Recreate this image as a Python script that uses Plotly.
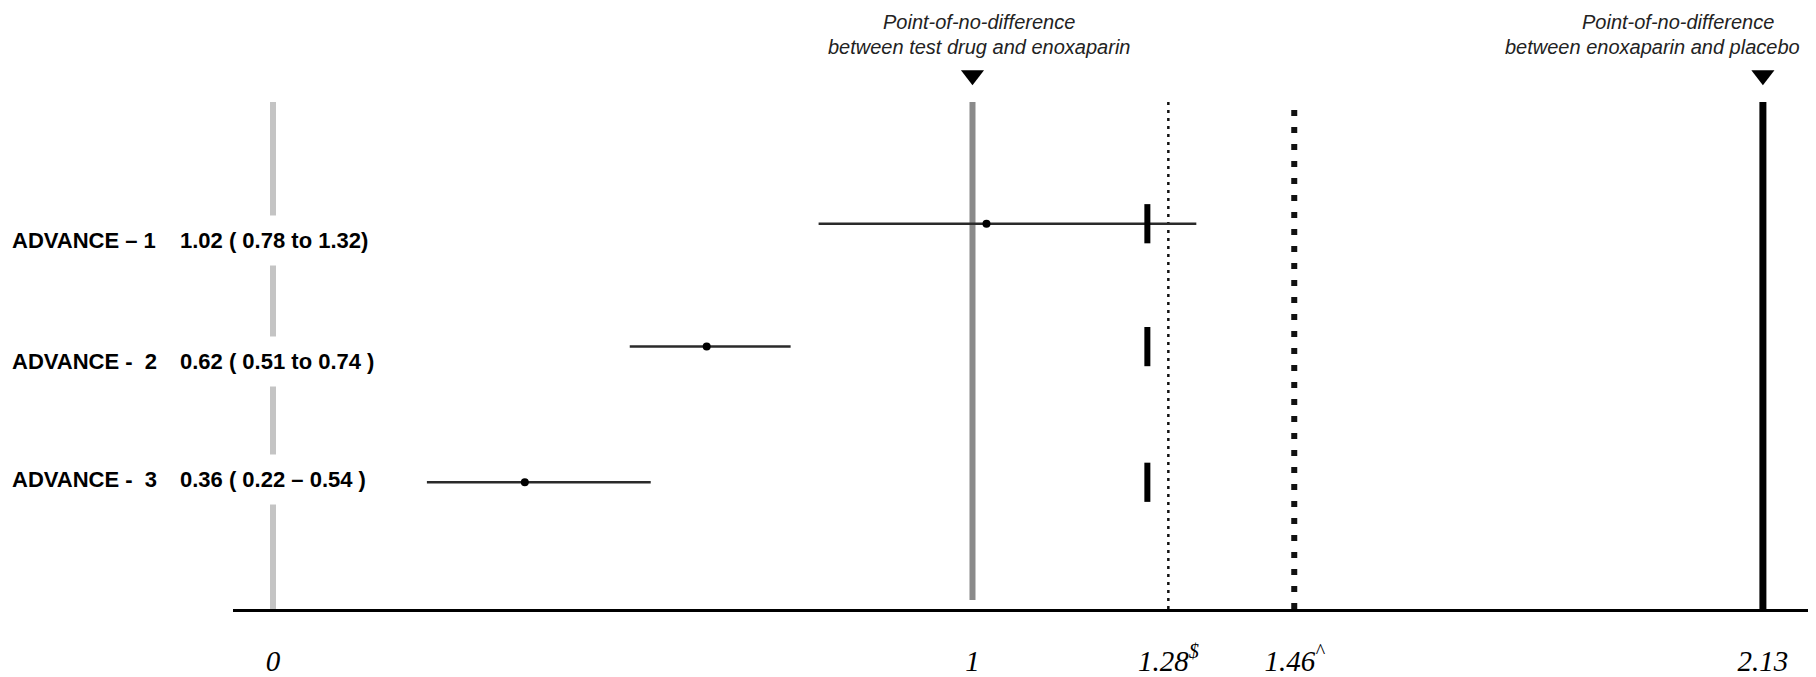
import plotly.graph_objects as go

# ---- data ----
studies = ["ADVANCE – 1", "ADVANCE -  2", "ADVANCE -  3"]
estimate = [1.02, 0.62, 0.36]
ci_low = [0.78, 0.51, 0.22]
ci_high = [1.32, 0.74, 0.54]
ci_text = ["1.02 ( 0.78 to 1.32)", "0.62 ( 0.51 to 0.74 )", "0.36 ( 0.22 – 0.54 )"]
margin_mark = [1.25, 1.25, 1.25]

tick_vals = [0, 1, 1.28, 1.46, 2.13]
tick_text = ["0", "1", "1.28<sup>$</sup>", "1.46<sup>^</sup>", "2.13"]

pond_vals = [1, 2.13]  # points of no difference
pond_line1 = ["Point-of-no-difference", "Point-of-no-difference"]
pond_line2 = ["between test drug and enoxaparin", "between enoxaparin and placebo"]

# ---- layout helpers (positions / styles) ----
# the page body has an 8px default margin, so the figure is drawn 8px smaller
W, H = 1808, 669
AX_Y = 601            # axis line height inside the figure (px from top)
UNIT = 128.0          # px per y unit
row_y = [3.01, 2.05, 0.99]
label_y = [2.88, 1.93, 1.01]
line_top = 3.96
tri_y = 4.17
ref_styles = [
    dict(color="#c4c4c4", width=6, dash="solid", y0=0.0),
    dict(color="#8a8a8a", width=6, dash="solid", y0=0.07),
    dict(color="#111111", width=2.5, dash="3px,5px", y0=0.0),
    dict(color="#111111", width=6, dash="6px,11px", y0=0.0),
    dict(color="#000000", width=7, dash="solid", y0=0.0),
]

fig = go.Figure()

# reference vertical lines
for v, st in zip(tick_vals, ref_styles):
    fig.add_shape(type="line", xref="x", yref="y", x0=v, x1=v, y0=st["y0"], y1=line_top,
                  line=dict(color=st["color"], width=st["width"], dash=st["dash"]),
                  layer="below")

# CI lines
xs, ys = [], []
for lo, hi, y in zip(ci_low, ci_high, row_y):
    xs += [lo, hi, None]
    ys += [y, y, None]
fig.add_trace(go.Scatter(x=xs, y=ys, mode="lines", line=dict(color="#2a2a2a", width=2.5),
                         hoverinfo="skip"))

# margin marks
fig.add_trace(go.Scatter(x=margin_mark, y=row_y, mode="markers",
                         marker=dict(symbol="line-ns", size=28,
                                     line=dict(color="black", width=6))))

# point estimates
fig.add_trace(go.Scatter(x=estimate, y=row_y, mode="markers",
                         marker=dict(symbol="circle", size=8, color="black")))

# triangles
fig.add_trace(go.Scatter(x=pond_vals, y=[tri_y] * len(pond_vals), mode="markers",
                         marker=dict(symbol="triangle-down", size=20, color="black")))

annotations = []
sans = "Arial, Liberation Sans, sans-serif"
for name, txt, ly in zip(studies, ci_text, label_y):
    annotations.append(dict(x=-0.1415, xref="paper", y=ly, yref="y", text="<b>" + name + "</b>",
                            showarrow=False, xanchor="left", yanchor="middle",
                            font=dict(family=sans, size=22, color="black")))
    annotations.append(dict(x=-0.042, xref="paper", y=ly, yref="y", text="<b>" + txt + "</b>",
                            showarrow=False, xanchor="left", yanchor="middle",
                            bgcolor="white", borderpad=12,
                            font=dict(family=sans, size=22, color="black")))

shifts1 = [7, -85]
shifts2 = [7, -110]
for v, t1, t2, s1, s2 in zip(pond_vals, pond_line1, pond_line2, shifts1, shifts2):
    annotations.append(dict(x=v, xref="x", y=(609 - 22) / UNIT, yref="y", text="<i>" + t1 + "</i>",
                            showarrow=False, xanchor="center", yanchor="middle", xshift=s1,
                            font=dict(family=sans, size=20, color="#222")))
    annotations.append(dict(x=v, xref="x", y=(609 - 47) / UNIT, yref="y", text="<i>" + t2 + "</i>",
                            showarrow=False, xanchor="center", yanchor="middle", xshift=s2,
                            font=dict(family=sans, size=20, color="#222")))

fig.update_layout(
    width=W, height=H, autosize=False,
    margin=dict(l=225, r=4, t=0, b=H - AX_Y),
    paper_bgcolor="white", plot_bgcolor="white",
    showlegend=False,
    annotations=annotations,
    xaxis=dict(range=[-0.0572, 2.2002], showgrid=False, zeroline=False,
               showline=True, linecolor="black", linewidth=2.5,
               tickvals=tick_vals, ticktext=["<i>" + t + "</i>" for t in tick_text],
               ticks="", ticklabelstandoff=24,
               tickfont=dict(family="Times New Roman, Liberation Serif, serif", size=29,
                             color="black")),
    yaxis=dict(range=[0, AX_Y / UNIT], visible=False, fixedrange=True),
)

fig.write_html("out.html")
